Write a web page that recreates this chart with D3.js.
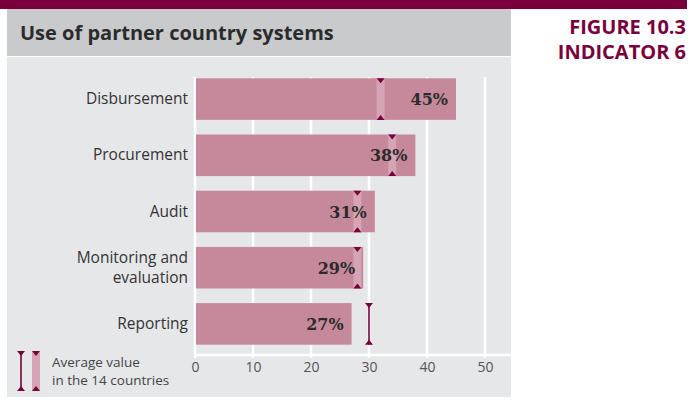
<!DOCTYPE html>
<html><head><meta charset="utf-8">
<script src="https://cdn.jsdelivr.net/npm/d3@7"></script>
<style>body{margin:0;background:#fff;}svg{display:block;}</style>
</head><body>
<script>
const categories = [["Disbursement"], ["Procurement"], ["Audit"], ["Monitoring and", "evaluation"], ["Reporting"]];
const values = [45, 38, 31, 29, 27];
const averages = [32, 34, 28, 28, 30];
const tickValues = [0, 10, 20, 30, 40, 50];
const title = "Use of partner country systems";
const figureLabel = ["FIGURE 10.3", "INDICATOR 6"];
const legendText = ["Average value", "in the 14 countries"];

const W = 690, H = 400;
const FONT = "'Open Sans', sans-serif";
const maroon = "#7a003c", barColor = "#c5899b", bandColor = "#d6a5b5";
const svg = d3.select("body").append("svg").attr("width", W).attr("height", H);

svg.append("rect").attr("x", 0).attr("y", 0).attr("width", 687).attr("height", 9).attr("fill", maroon);
svg.append("rect").attr("x", 7).attr("y", 9).attr("width", 504).attr("height", 47).attr("fill", "#c9cacc");
svg.append("rect").attr("x", 7).attr("y", 57).attr("width", 504).attr("height", 340).attr("fill", "#e6e7e9");

svg.append("text").attr("x", 20).attr("y", 40).text(title)
  .attr("font-family", FONT).attr("font-weight", "bold").attr("font-size", 20).attr("fill", "#2b2b2b");
figureLabel.forEach((t, i) => svg.append("text").attr("x", 686).attr("y", 34 + i * 25).attr("text-anchor", "end")
  .text(t).attr("font-family", FONT).attr("font-weight", "bold").attr("font-size", 20).attr("fill", maroon));

const x = d3.scaleLinear().domain([0, 50]).range([195, 485]);
const y = d3.scaleBand().domain(d3.range(categories.length)).range([71, 352]).paddingInner(0.26).paddingOuter(0.13);

// grid
svg.append("g").selectAll("line").data(tickValues).join("line")
  .attr("x1", d => x(d)).attr("x2", d => x(d)).attr("y1", 77).attr("y2", 358)
  .attr("stroke", "#fff").attr("stroke-width", 2.5);
svg.append("line").attr("x1", x(0) - 1).attr("x2", 511).attr("y1", 355).attr("y2", 355).attr("stroke", "#fff").attr("stroke-width", 2.5);

// axis
const ax = svg.append("g").attr("transform", "translate(0,358)")
  .call(d3.axisBottom(x).tickValues(tickValues).tickSize(0).tickPadding(4));
ax.select(".domain").remove();
ax.selectAll("text").attr("font-family", FONT).attr("font-size", 14).attr("fill", "#555");

// bars
svg.append("g").selectAll("rect").data(values).join("rect")
  .attr("x", x(0) + 1).attr("y", (d, i) => y(i)).attr("width", d => x(d) - x(0) - 1).attr("height", y.bandwidth())
  .attr("fill", barColor);

const tri = (cx, cy, dir) => { const s = 4; return `M${cx - s},${cy}L${cx + s},${cy}L${cx},${cy + dir * 5}Z`; };

function avgMarker(g, cx, y0, y1, inside) {
  if (inside) {
    g.append("rect").attr("x", cx - 4).attr("y", y0).attr("width", 8).attr("height", y1 - y0).attr("fill", bandColor);
  } else {
    g.append("line").attr("x1", cx).attr("x2", cx).attr("y1", y0).attr("y2", y1).attr("stroke", maroon).attr("stroke-width", 1.6);
  }
  g.append("path").attr("d", tri(cx, y0, 1)).attr("fill", maroon);
  g.append("path").attr("d", tri(cx, y1, -1)).attr("fill", maroon);
}

averages.forEach((a, i) => {
  avgMarker(svg.append("g"), x(a), y(i), y(i) + y.bandwidth(), a < values[i]);
});

// value labels
svg.append("g").selectAll("text").data(values).join("text")
  .attr("x", d => x(d) - 8).attr("y", (d, i) => y(i) + y.bandwidth() / 2 + 6)
  .attr("text-anchor", "end").text(d => d + "%")
  .attr("font-family", "'DejaVu Serif', serif").attr("font-weight", "bold").attr("font-size", 16).attr("fill", "#2b2b2b");

// category labels
categories.forEach((lines, i) => {
  const cy = y(i) + y.bandwidth() / 2;
  const t = svg.append("text").attr("text-anchor", "end")
    .attr("font-family", FONT).attr("font-size", 15.5).attr("fill", "#333");
  lines.forEach((l, j) => t.append("tspan").attr("x", 188)
    .attr("y", cy + 5 + (j - (lines.length - 1) / 2) * 20).text(l));
});

// legend
const lg = svg.append("g");
avgMarker(lg, 21, 351, 391, false);
avgMarker(lg, 36, 351, 391, true);
legendText.forEach((t, i) => lg.append("text").attr("x", 52).attr("y", 367 + i * 18).text(t)
  .attr("font-family", FONT).attr("font-size", 13.5).attr("fill", "#444"));
</script>
</body></html>
